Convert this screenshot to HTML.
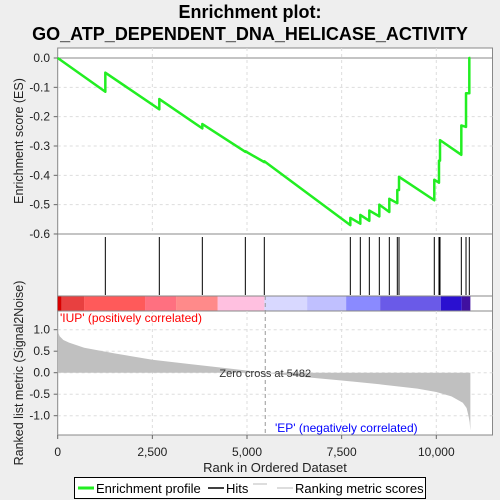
<!DOCTYPE html>
<html><head><meta charset="utf-8"><style>
body{margin:0;background:#eeeeee;font-family:"Liberation Sans",sans-serif}
svg{display:block}
</style></head><body>
<svg id="c" width="500" height="500" xmlns="http://www.w3.org/2000/svg">
<text x="250" y="18" text-anchor="middle" font-size="18" font-weight="bold">Enrichment plot:</text>
<text x="250" y="40" text-anchor="middle" font-size="18" font-weight="bold">GO_ATP_DEPENDENT_DNA_HELICASE_ACTIVITY</text>
<g id="plot"></g>
</svg>
<script>
const N = 10900;
const hitRanks = [1258,2684,3820,4956,5457,7729,7993,8231,8495,8759,8970,9015,9947,10071,10098,10661,10785,10872];
const esBefore = [-0.115,-0.175,-0.24,-0.32,-0.355,-0.57,-0.565,-0.555,-0.54,-0.525,-0.495,-0.45,-0.485,-0.425,-0.35,-0.33,-0.235,-0.12];
const esAfter  = [-0.05,-0.14,-0.225,-0.318,-0.352,-0.545,-0.535,-0.52,-0.5,-0.48,-0.45,-0.405,-0.415,-0.35,-0.28,-0.23,-0.12,0.0];
const esTicks = [0.0,-0.1,-0.2,-0.3,-0.4,-0.5,-0.6];
const esTickLabels = ["0.0","-0.1","-0.2","-0.3","-0.4","-0.5","-0.6"];
const xTicks = [0,2500,5000,7500,10000];
const xTickLabels = ["0","2,500","5,000","7,500","10,000"];
const mTicks = [1.0,0.5,0.0,-0.5,-1.0];
const mTickLabels = ["1.0","0.5","0.0","-0.5","-1.0"];
const metricRanks = [0,20,50,150,300,700,1500,2500,3500,4500,5482,6500,7500,8500,9500,10000,10400,10700,10800,10850,10880,10900];
const metricVals  = [1.05,0.92,0.85,0.76,0.7,0.58,0.45,0.3,0.2,0.1,0,-0.1,-0.18,-0.27,-0.37,-0.45,-0.55,-0.7,-0.82,-1.0,-1.15,-1.35];
const barBounds = [0,106,696,2307,3126,4227,5460,6588,7618,8516,10118,10673,10900];
const barColors = ["#d80000","#e84040","#ff5a5a","#ff7080","#ff8a8a","#ffc0e0","#d8d8ff","#c0c0ff","#8a8aff","#6a5ae8","#2a10d0","#4010a0"];
const zeroCross = 5482;

const L=57.7, R=492.5;
const sx = r => L + r*0.03786;
const esY = v => 58 - v*293.3;
const mY = v => 372.7 - v*43;
const g = document.getElementById('plot');
const NS='http://www.w3.org/2000/svg';
function mk(t,a,p){const e=document.createElementNS(NS,t);for(const k in a)e.setAttribute(k,a[k]);(p||g).appendChild(e);return e;}

let e;
e=mk('rect',{x:L,y:48,width:R-L,height:186,fill:'#fff',stroke:'#888'});


e=mk('rect',{x:L,y:234,width:R-L,height:62,fill:'#fff',stroke:'#888'});


e=mk('rect',{x:L,y:296,width:R-L,height:15,fill:'#fff',stroke:'#888'});


e=mk('rect',{x:L,y:311,width:R-L,height:124,fill:'#fff',stroke:'#888'});



xTicks.forEach((t,i)=>{
  if(i>0){
    [[48,234],[311,435]].forEach(([a,b])=>{
      e=mk('line',{x1:sx(t),x2:sx(t),y1:a,y2:b,stroke:'#ddd','stroke-dasharray':'3,3'});
      
      
    });
  }
  e=mk('line',{x1:sx(t),x2:sx(t),y1:435,y2:439,stroke:'#666'});
  
  
  e=mk('text',{x:sx(t),y:456,'text-anchor':'middle','font-size':12,fill:'#222'});
  e.textContent=xTickLabels[i];
  
  
});
esTicks.forEach((t,i)=>{
  if(i>0&&i<esTicks.length-1){
    e=mk('line',{x1:L,x2:R,y1:esY(t),y2:esY(t),stroke:'#ddd','stroke-dasharray':'3,3'});
    
    
  }
  e=mk('text',{x:50,y:esY(t)+4,'text-anchor':'end','font-size':12,fill:'#222'});
  e.textContent=esTickLabels[i];
  
  
  e=mk('line',{x1:L-4,x2:L,y1:esY(t),y2:esY(t),stroke:'#666'});
  
  
});
e=mk('line',{x1:L,x2:R,y1:esY(0),y2:esY(0),stroke:'#888'});


mTicks.forEach((t,i)=>{
  e=mk('line',{x1:L,x2:R,y1:mY(t),y2:mY(t),stroke:'#ddd','stroke-dasharray':'3,3'});
  
  
  e=mk('text',{x:50,y:mY(t)+4,'text-anchor':'end','font-size':12,fill:'#222'});
  e.textContent=mTickLabels[i];
  
  
  e=mk('line',{x1:L-4,x2:L,y1:mY(t),y2:mY(t),stroke:'#666'});
  
  
});

let pts=[[sx(0),esY(0)]];
hitRanks.forEach((r,i)=>{pts.push([sx(r),esY(esBefore[i])]);pts.push([sx(r),esY(esAfter[i])]);});
pts.push([sx(N),esY(esAfter[esAfter.length-1])]);
e=mk('polyline',{points:pts.map(p=>p.join(',')).join(' '),fill:'none',stroke:'#22ee22','stroke-width':2.5,'stroke-linejoin':'round'});



hitRanks.forEach(r=>{
  e=mk('line',{x1:sx(r),x2:sx(r),y1:237,y2:295,stroke:'#000','stroke-width':1});
  
  
});

barColors.forEach((c,i)=>{
  e=mk('rect',{x:sx(barBounds[i]),y:296.5,width:sx(barBounds[i+1])-sx(barBounds[i]),height:14,fill:c});
  
  
});

let mp=[[sx(0),mY(0)]];
metricRanks.forEach((r,i)=>mp.push([sx(r),mY(metricVals[i])]));
mp.push([sx(N),mY(0)]);
e=mk('polygon',{points:mp.map(p=>p.join(',')).join(' '),fill:'#c0c0c0'});



e=mk('line',{x1:sx(zeroCross),x2:sx(zeroCross),y1:296,y2:435,stroke:'#999','stroke-dasharray':'4,3'});


e=mk('text',{x:sx(zeroCross),y:377,'text-anchor':'middle','font-size':11,fill:'#333'});
e.textContent='Zero cross at '+zeroCross;



function txt(s,a,name){e=mk('text',a);e.textContent=s;return e;}
txt("'IUP' (positively correlated)",{x:60,y:322,'font-size':12,fill:'#ff0000'},'positive-label');
txt("'EP' (negatively correlated)",{x:275,y:432,'font-size':12,fill:'#0000ff'},'negative-label');
txt("Rank in Ordered Dataset",{x:275,y:472,'text-anchor':'middle','font-size':13,fill:'#222'},'x-axis-title');
txt("Enrichment score (ES)",{x:0,y:0,'text-anchor':'middle','font-size':12.5,fill:'#222',transform:'translate(23,141) rotate(-90)'},'es-axis-title');
txt("Ranked list metric (Signal2Noise)",{x:0,y:0,'text-anchor':'middle','font-size':12.5,fill:'#222',transform:'translate(23,373) rotate(-90)'},'metric-axis-title');

const lg=mk('g',{});


e=mk('rect',{x:74.5,y:477.5,width:351,height:21,fill:'#fff',stroke:'#000'},lg);


e=mk('line',{x1:78,x2:94,y1:488,y2:488,stroke:'#22ee22','stroke-width':3},lg);


e=mk('text',{x:96,y:493,'font-size':13},lg);e.textContent='Enrichment profile';


e=mk('line',{x1:208,x2:224,y1:488,y2:488,stroke:'#000','stroke-width':1.5},lg);


e=mk('text',{x:226,y:493,'font-size':13},lg);e.textContent='Hits';


e=mk('line',{x1:253,x2:267,y1:484,y2:484,stroke:'#bbb'},lg);


e=mk('line',{x1:277,x2:293,y1:488,y2:488,stroke:'#bbb'},lg);


e=mk('text',{x:295,y:493,'font-size':13},lg);e.textContent='Ranking metric scores';


</script>
</body></html>
